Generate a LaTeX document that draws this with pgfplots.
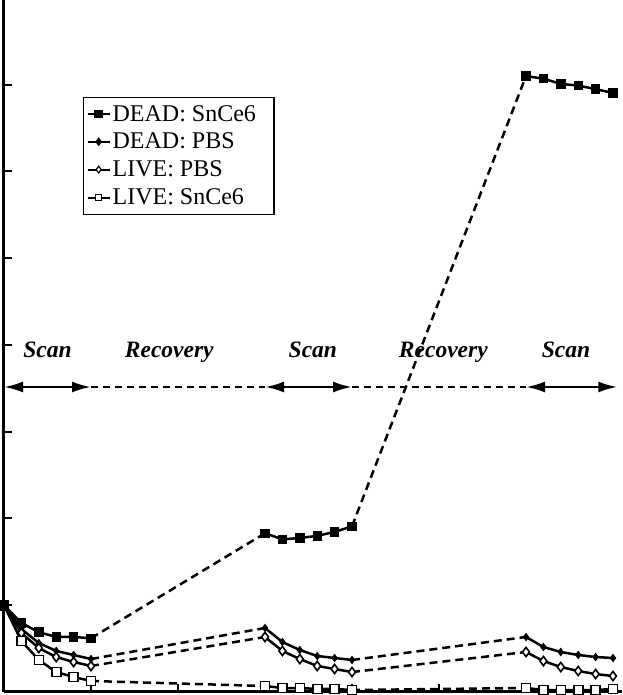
\documentclass[border=0pt]{standalone}
\usepackage{fontspec}
\setmainfont{Liberation Serif}
\usepackage{pgfplots}
\pgfplotsset{compat=1.18}
\usetikzlibrary{arrows.meta}

\pgfplotsset{
  dsn/.style={black, line width=2.5pt, mark=square*, mark size=4.2pt, mark options={solid, fill=black, line width=1pt}},
  dpbs/.style={black, line width=2.5pt, mark=diamond*, mark size=3.5pt, mark options={solid, fill=black, line width=1pt}},
  lpbs/.style={black, line width=2.5pt, mark=diamond*, mark size=4.6pt, mark options={solid, fill=white, line width=1.6pt}},
  lsn/.style={black, line width=2.5pt, mark=square*, mark size=4.5pt, mark options={solid, fill=white, line width=1.6pt}},
  rec/.style={black, line width=2.5pt, dash pattern=on 8pt off 5pt, no marks, unbounded coords=jump, forget plot},
}

\begin{document}
\begin{tikzpicture}
\begin{axis}[
  scale only axis, width=617.7pt, height=694pt,
  xmin=0, xmax=7.1, ymin=0, ymax=8,
  axis x line*=bottom, axis y line*=left,
  axis line style={line width=3pt, black},
  xtick={0,...,7}, ytick={0,...,8},
  xticklabels={}, yticklabels={},
  xtick align=inside, ytick align=inside,
  tick style={line width=2pt, black},
  major tick length=8pt,
  clip=false,
  legend style={at={(0.128,0.858)}, anchor=north west, draw=black, line width=1.2pt,
    font=\fontsize{24}{28}\selectfont, inner xsep=3pt, inner ysep=6pt, row sep=6.5pt,
    cells={anchor=west}},
  legend image code/.code={\draw[mark repeat=2,mark phase=2] plot coordinates {(0pt,0pt)(11pt,0pt)(22pt,0pt)};},
]
\coordinate (BL) at (rel axis cs:0,0);

% legend
\addlegendimage{black, line width=2pt, mark=square*, mark size=3.2pt, mark options={solid, fill=black}}
\addlegendentry{DEAD: SnCe6\rule{13pt}{0pt}}
\addlegendimage{black, line width=2pt, mark=diamond*, mark size=2.8pt, mark options={solid, fill=black}}
\addlegendentry{DEAD: PBS}
\addlegendimage{black, line width=2pt, mark=diamond*, mark size=3.4pt, mark options={solid, fill=white, line width=1.2pt}}
\addlegendentry{LIVE: PBS}
\addlegendimage{black, line width=2pt, mark=square*, mark size=3.2pt, mark options={solid, fill=white, line width=1.2pt}}
\addlegendentry{LIVE: SnCe6}

% annotation: scan / recovery
\node[font=\fontsize{23.5}{27}\selectfont\bfseries\itshape, anchor=base] at (axis cs:0.5,3.86) {Scan};
\node[font=\fontsize{23.5}{27}\selectfont\bfseries\itshape, anchor=base] at (axis cs:1.9,3.86) {Recovery};
\node[font=\fontsize{23.5}{27}\selectfont\bfseries\itshape, anchor=base] at (axis cs:3.55,3.86) {Scan};
\node[font=\fontsize{23.5}{27}\selectfont\bfseries\itshape, anchor=base] at (axis cs:5.05,3.86) {Recovery};
\node[font=\fontsize{23.5}{27}\selectfont\bfseries\itshape, anchor=base] at (axis cs:6.46,3.86) {Scan};
\draw[{Latex[length=19pt,width=11pt]}-{Latex[length=19pt,width=11pt]}, line width=2.5pt] (axis cs:0,3.516) -- (axis cs:1,3.516);
\draw[{Latex[length=19pt,width=11pt]}-{Latex[length=19pt,width=11pt]}, line width=2.5pt] (axis cs:3,3.516) -- (axis cs:4,3.516);
\draw[{Latex[length=19pt,width=11pt]}-{Latex[length=19pt,width=11pt]}, line width=2.5pt] (axis cs:6,3.516) -- (axis cs:7.05,3.516);
\draw[line width=2pt, dash pattern=on 7pt off 5pt] (axis cs:1,3.516) -- (axis cs:3,3.516);
\draw[line width=2pt, dash pattern=on 7pt off 5pt] (axis cs:4,3.516) -- (axis cs:6,3.516);

% recovery (dashed) connections
\addplot[rec] coordinates {(1,0.62) (3,1.83) (3.5,nan) (4,1.91) (6,7.10)};
\addplot[rec] coordinates {(1,0.38) (3,0.738) (3.5,nan) (4,0.369) (6,0.634)};
\addplot[rec] coordinates {(1,0.30) (3,0.634) (3.5,nan) (4,0.23) (6,0.461)};
\addplot[rec] coordinates {(1,0.127) (3,0.069) (3.5,nan) (4,0.023) (6,0.046)};

% DEAD: SnCe6
\addplot[dsn, forget plot] coordinates {(0,1.00) (0.2,0.795) (0.4,0.69) (0.6,0.634) (0.8,0.634) (1.0,0.62)};
\addplot[dsn, forget plot] coordinates {(3,1.83) (3.2,1.76) (3.4,1.775) (3.6,1.80) (3.8,1.845) (4.0,1.91)};
\addplot[dsn, forget plot] coordinates {(6,7.10) (6.2,7.07) (6.4,7.01) (6.6,6.99) (6.8,6.95) (7.0,6.905)};

% DEAD: PBS
\addplot[dpbs, forget plot] coordinates {(0,1.00) (0.2,0.726) (0.4,0.565) (0.6,0.473) (0.8,0.427) (1.0,0.38)};
\addplot[dpbs, forget plot] coordinates {(3,0.738) (3.2,0.576) (3.4,0.484) (3.6,0.415) (3.8,0.392) (4.0,0.369)};
\addplot[dpbs, forget plot] coordinates {(6,0.634) (6.2,0.519) (6.4,0.461) (6.6,0.427) (6.8,0.403) (7.0,0.392)};

% LIVE: PBS
\addplot[lpbs, forget plot] coordinates {(0,1.00) (0.2,0.68) (0.4,0.507) (0.6,0.403) (0.8,0.346) (1.0,0.30)};
\addplot[lpbs, forget plot] coordinates {(3,0.634) (3.2,0.473) (3.4,0.38) (3.6,0.30) (3.8,0.265) (4.0,0.23)};
\addplot[lpbs, forget plot] coordinates {(6,0.461) (6.2,0.357) (6.4,0.288) (6.6,0.242) (6.8,0.207) (7.0,0.184)};

% LIVE: SnCe6
\addplot[lsn, forget plot] coordinates {(0,1.00) (0.2,0.588) (0.4,0.369) (0.6,0.23) (0.8,0.173) (1.0,0.127)};
\addplot[lsn, forget plot] coordinates {(3,0.069) (3.2,0.046) (3.4,0.046) (3.6,0.035) (3.8,0.035) (4.0,0.023)};
\addplot[lsn, forget plot] coordinates {(6,0.046) (6.2,0.023) (6.4,0.023) (6.6,0.023) (6.8,0.023) (7.0,0.035)};

% common first point drawn on top
\addplot[dsn, forget plot, only marks] coordinates {(0,1.00)};
\end{axis}
\pgfresetboundingbox
\path[use as bounding box] ([shift={(-4pt,-3pt)}]BL) rectangle ([shift={(618pt,692pt)}]BL);
\end{tikzpicture}
\end{document}
